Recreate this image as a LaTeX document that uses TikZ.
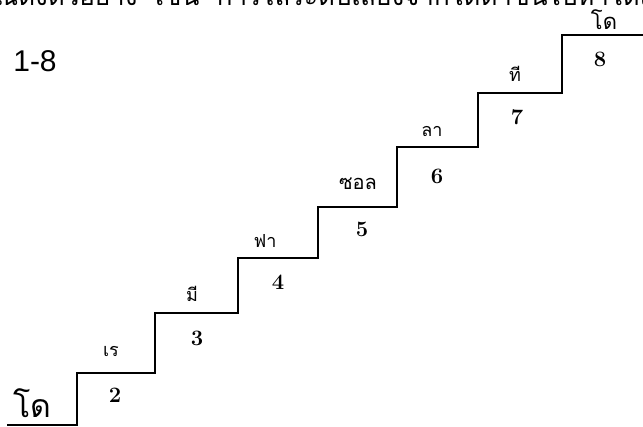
\documentclass[tikz,border=0pt]{standalone}
\usepackage{fontspec}
\newfontfamily\thaifont[Script=Thai]{Loma}
\newfontfamily\capfont{Liberation Sans}

\tikzset{
  stair/.style={line width=1.6pt, line join=miter, line cap=rect},
  syll/.style={font=\thaifont\fontsize{18}{18}\selectfont, inner sep=0pt, anchor=base},
  stepnum/.style={font=\bfseries\fontsize{22}{22}\selectfont, inner sep=0pt},
}

\begin{document}
\begin{tikzpicture}[x=1pt, y=-1pt]
        \useasboundingbox (0,0) rectangle (643,427);

        % cut-off line of running text at the top
        \begin{scope}
            \clip (0,0) rectangle (643,12);
            \node[syll, anchor=base west, font=\thaifont\fontsize{26}{26}\selectfont] (textline) at (-6,6)
                {ณดังตัวอย่าง\ \ เช่น\ \ การไล่ระดับเสียงจากโดต่ำขึ้นไปหาโดสูงทั้งหมด};
        \end{scope}
        \node[font=\capfont\fontsize{30}{30}\selectfont, inner sep=0pt] (fig) at (35,61) {1-8};

        % corners of the staircase
        \coordinate (c0) at (8,425);
        \coordinate (c1) at (77,425);
        \coordinate (c2) at (77,373);
        \coordinate (c3) at (155,373);
        \coordinate (c4) at (155,313);
        \coordinate (c5) at (238,313);
        \coordinate (c6) at (238,258);
        \coordinate (c7) at (318,258);
        \coordinate (c8) at (318,207);
        \coordinate (c9) at (397,207);
        \coordinate (c10) at (397,147);
        \coordinate (c11) at (478,147);
        \coordinate (c12) at (478,93);
        \coordinate (c13) at (562,93);
        \coordinate (c14) at (562,35);
        \coordinate (c15) at (643,35);

        \draw[stair] (c0) -- (c1) -- (c2) -- (c3) -- (c4) -- (c5) -- (c6) -- (c7)
            -- (c8) -- (c9) -- (c10) -- (c11) -- (c12) -- (c13) -- (c14) -- (c15);

        % syllables on the treads
        \node[syll, font=\thaifont\fontsize{32}{32}\selectfont] (do1) at (32,418) {โด};
        \node[syll] (re) at (111,357) {เร};
        \node[syll] (mi) at (192,302) {มี};
        \node[syll] (fa) at (265,248) {ฟา};
        \node[syll, font=\thaifont\fontsize{20}{20}\selectfont] (sol) at (358,190) {ซอล};
        \node[syll] (la) at (432,137) {ลา};
        \node[syll] (ti) at (515,82) {ที};
        \node[syll, font=\thaifont\fontsize{22}{22}\selectfont] (do8) at (604,30) {โด};

        % step numbers under the treads
        \node[stepnum] (n2) at (115,395) {2};
        \node[stepnum] (n3) at (197,338) {3};
        \node[stepnum] (n4) at (278,282) {4};
        \node[stepnum] (n5) at (362,229) {5};
        \node[stepnum] (n6) at (437,176) {6};
        \node[stepnum] (n7) at (517,117) {7};
        \node[stepnum] (n8) at (600,59) {8};
\end{tikzpicture}
\end{document}
